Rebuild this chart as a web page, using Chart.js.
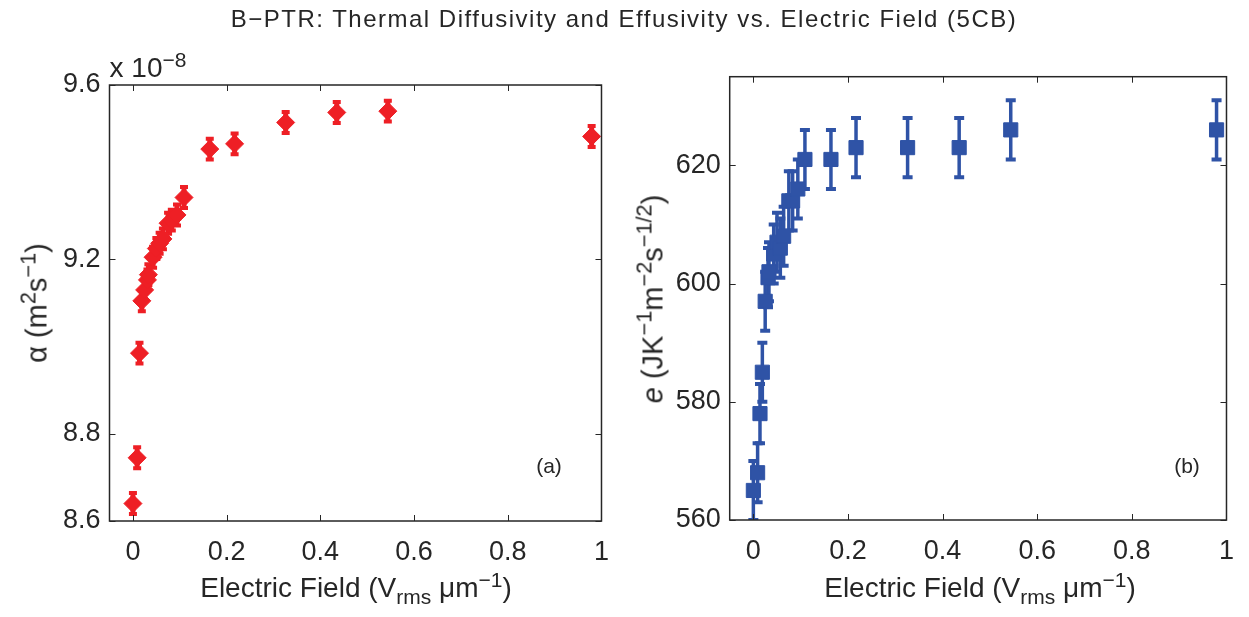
<!DOCTYPE html>
<html>
<head>
<meta charset="utf-8">
<script src="https://cdn.jsdelivr.net/npm/chart.js@4.4.1/dist/chart.umd.min.js"></script>
<style>
  body { margin: 0; background: #fff; width: 1249px; height: 617px; position: relative; overflow: hidden;
         font-family: "Liberation Sans", Arial, sans-serif; color: #262626; }
  .pane { position: absolute; top: 0; height: 617px; }
  .lbl { position: absolute; white-space: nowrap; line-height: 1; transform: translate(-50%, -50%); }
  .rot { transform: translate(-50%, -50%) rotate(-90deg); }
  sup, sub { font-size: 75%; line-height: 0; }
</style>
</head>
<body>
<div class="pane" style="left:0;width:624px"><canvas id="alphaChart"></canvas></div>
<div class="pane" style="left:624px;width:625px"><canvas id="effChart"></canvas></div>

<div class="lbl" style="left:624px;top:19px;font-size:24px;letter-spacing:1.5px">B&minus;PTR: Thermal Diffusivity and Effusivity vs. Electric Field (5CB)</div>
<div class="lbl" style="left:148px;top:68px;font-size:28px">x 10<sup>&minus;8</sup></div>
<div class="lbl rot" style="left:37px;top:303px;font-size:29px">&alpha; (m<sup>2</sup>s<sup>&minus;1</sup>)</div>
<div class="lbl rot" style="left:653px;top:299px;font-size:29px"><i>e</i> (JK<sup>&minus;1</sup>m<sup>&minus;2</sup>s<sup>&minus;1/2</sup>)</div>
<div class="lbl" style="left:356px;top:588px;font-size:28px">Electric Field (V<sub>rms</sub> &mu;m<sup>&minus;1</sup>)</div>
<div class="lbl" style="left:980px;top:588px;font-size:28px">Electric Field (V<sub>rms</sub> &mu;m<sup>&minus;1</sup>)</div>
<div class="lbl" style="left:549px;top:465px;font-size:21px">(a)</div>
<div class="lbl" style="left:1187px;top:465px;font-size:21px">(b)</div>

<script>
// Electric field values (V_rms per micrometre), shared by both panels
const fieldValues = [0, 0.009, 0.014, 0.019, 0.025, 0.031, 0.033, 0.043, 0.05, 0.057, 0.064,
                     0.075, 0.083, 0.094, 0.109, 0.164, 0.217, 0.326, 0.435, 0.544, 0.979];

// Thermal diffusivity (x 1e-8 m^2/s) and its error
const alphaValues = [8.64, 8.745, 8.985, 9.105, 9.13, 9.153, 9.165, 9.205, 9.225, 9.237, 9.247,
                     9.283, 9.29, 9.302, 9.342, 9.453, 9.465, 9.514, 9.537, 9.54, 9.482];
const alphaErrors = fieldValues.map(() => 0.024);

// Thermal effusivity (J K^-1 m^-2 s^-1/2) and its error
const effValues = [565, 568, 578, 585, 597, 601, 602, 605, 607, 606, 608,
                   614, 614, 616, 621, 621, 623, 623, 623, 626, 626];
const effErrors = fieldValues.map(() => 5);

// Tick labels
const fieldTicks = [0, 0.2, 0.4, 0.6, 0.8, 1];
const alphaTicks = [8.6, 8.8, 9.2, 9.6];
const effTicks = [560, 580, 600, 620];

const axisColor = '#262626';
const tickFont = { family: '"Liberation Sans", Arial, sans-serif', size: 27 };

// Draws vertical error bars with caps, under the markers
const errorBarPlugin = {
    id: 'errorBars',
    beforeDatasetsDraw(chart, args, opts) {
        const ctx = chart.ctx;
        const area = chart.chartArea;
        const xScale = chart.scales.x;
        const yScale = chart.scales.y;
        ctx.save();
        ctx.beginPath();
        ctx.rect(area.left, area.top, area.right - area.left, area.bottom - area.top);
        ctx.clip();
        ctx.strokeStyle = opts.color;
        chart.data.datasets[0].data.forEach((p, i) => {
            const px = xScale.getPixelForValue(p.x);
            const top = yScale.getPixelForValue(p.y + opts.errors[i]);
            const bottom = yScale.getPixelForValue(p.y - opts.errors[i]);
            ctx.lineWidth = opts.lineWidth;
            ctx.beginPath();
            ctx.moveTo(px, top);
            ctx.lineTo(px, bottom);
            ctx.stroke();
            ctx.lineWidth = opts.capThickness;
            ctx.beginPath();
            ctx.moveTo(px - opts.capHalf, top);
            ctx.lineTo(px + opts.capHalf, top);
            ctx.moveTo(px - opts.capHalf, bottom);
            ctx.lineTo(px + opts.capHalf, bottom);
            ctx.stroke();
        });
        ctx.restore();
    }
};

// Box around the plot with inward tick marks on all four sides
const axesBoxPlugin = {
    id: 'axesBox',
    afterDraw(chart) {
        const ctx = chart.ctx;
        const a = chart.chartArea;
        const len = 6;
        ctx.save();
        ctx.strokeStyle = axisColor;
        ctx.lineWidth = 1.5;
        ctx.strokeRect(a.left, a.top, a.right - a.left, a.bottom - a.top);
        ctx.lineWidth = 1;
        ctx.beginPath();
        chart.scales.x.ticks.forEach(t => {
            const px = Math.round(chart.scales.x.getPixelForValue(t.value)) + 0.5;
            ctx.moveTo(px, a.bottom); ctx.lineTo(px, a.bottom - len);
            ctx.moveTo(px, a.top); ctx.lineTo(px, a.top + len);
        });
        chart.scales.y.ticks.forEach(t => {
            const py = Math.round(chart.scales.y.getPixelForValue(t.value)) + 0.5;
            ctx.moveTo(a.left, py); ctx.lineTo(a.left + len, py);
            ctx.moveTo(a.right, py); ctx.lineTo(a.right - len, py);
        });
        ctx.stroke();
        ctx.restore();
    }
};

// Builds one panel; layout numbers place the plot box where the reference has it
function makePanel(canvasId, values, errors, yMin, yMax, yTicks, color, marker, layout) {
    const ctx = document.getElementById(canvasId).getContext('2d');
    return new Chart(ctx, {
        type: 'scatter',
        data: {
            datasets: [{
                data: fieldValues.map((f, i) => ({ x: f, y: values[i] })),
                backgroundColor: color,
                borderColor: color,
                pointStyle: marker.style,
                pointRadius: marker.radius,
                pointHoverRadius: marker.radius,
                pointBorderWidth: 1,
                showLine: false
            }]
        },
        options: {
            responsive: true,
            maintainAspectRatio: false,
            animation: false,
            events: [],
            layout: { padding: { left: 0, right: layout.right, top: layout.top, bottom: 0 } },
            plugins: {
                legend: { display: false },
                tooltip: { enabled: false },
                errorBars: { errors: errors, color: color, lineWidth: marker.errWidth,
                             capThickness: marker.capThickness, capHalf: marker.capHalf }
            },
            scales: {
                x: {
                    type: 'linear',
                    min: -0.05,
                    max: 1,
                    grid: { display: false, drawTicks: false },
                    border: { display: false },
                    afterBuildTicks: s => { s.ticks = fieldTicks.map(v => ({ value: v })); },
                    afterFit: s => { s.height = layout.xHeight; },
                    ticks: { color: axisColor, font: tickFont, padding: 15, maxRotation: 0,
                             callback: v => String(v) }
                },
                y: {
                    type: 'linear',
                    min: yMin,
                    max: yMax,
                    grid: { display: false, drawTicks: false },
                    border: { display: false },
                    afterBuildTicks: s => { s.ticks = yTicks.map(v => ({ value: v })); },
                    afterFit: s => { s.width = layout.yWidth; },
                    ticks: { color: axisColor, font: tickFont, padding: 9,
                             callback: v => String(v) }
                }
            }
        },
        plugins: [errorBarPlugin, axesBoxPlugin]
    });
}

makePanel('alphaChart', alphaValues, alphaErrors, 8.6, 9.6, alphaTicks, '#EE1F25',
    { style: 'rectRot', radius: 9, errWidth: 5, capThickness: 4, capHalf: 4 },
    { yWidth: 109.5, right: 21.3, top: 85, xHeight: 96 });

makePanel('effChart', effValues, effErrors, 560, 635, effTicks, '#2F53A6',
    { style: 'rect', radius: 10, errWidth: 3.5, capThickness: 4, capHalf: 5 },
    { yWidth: 105.7, right: 18, top: 76.7, xHeight: 97 });
</script>
</body>
</html>
